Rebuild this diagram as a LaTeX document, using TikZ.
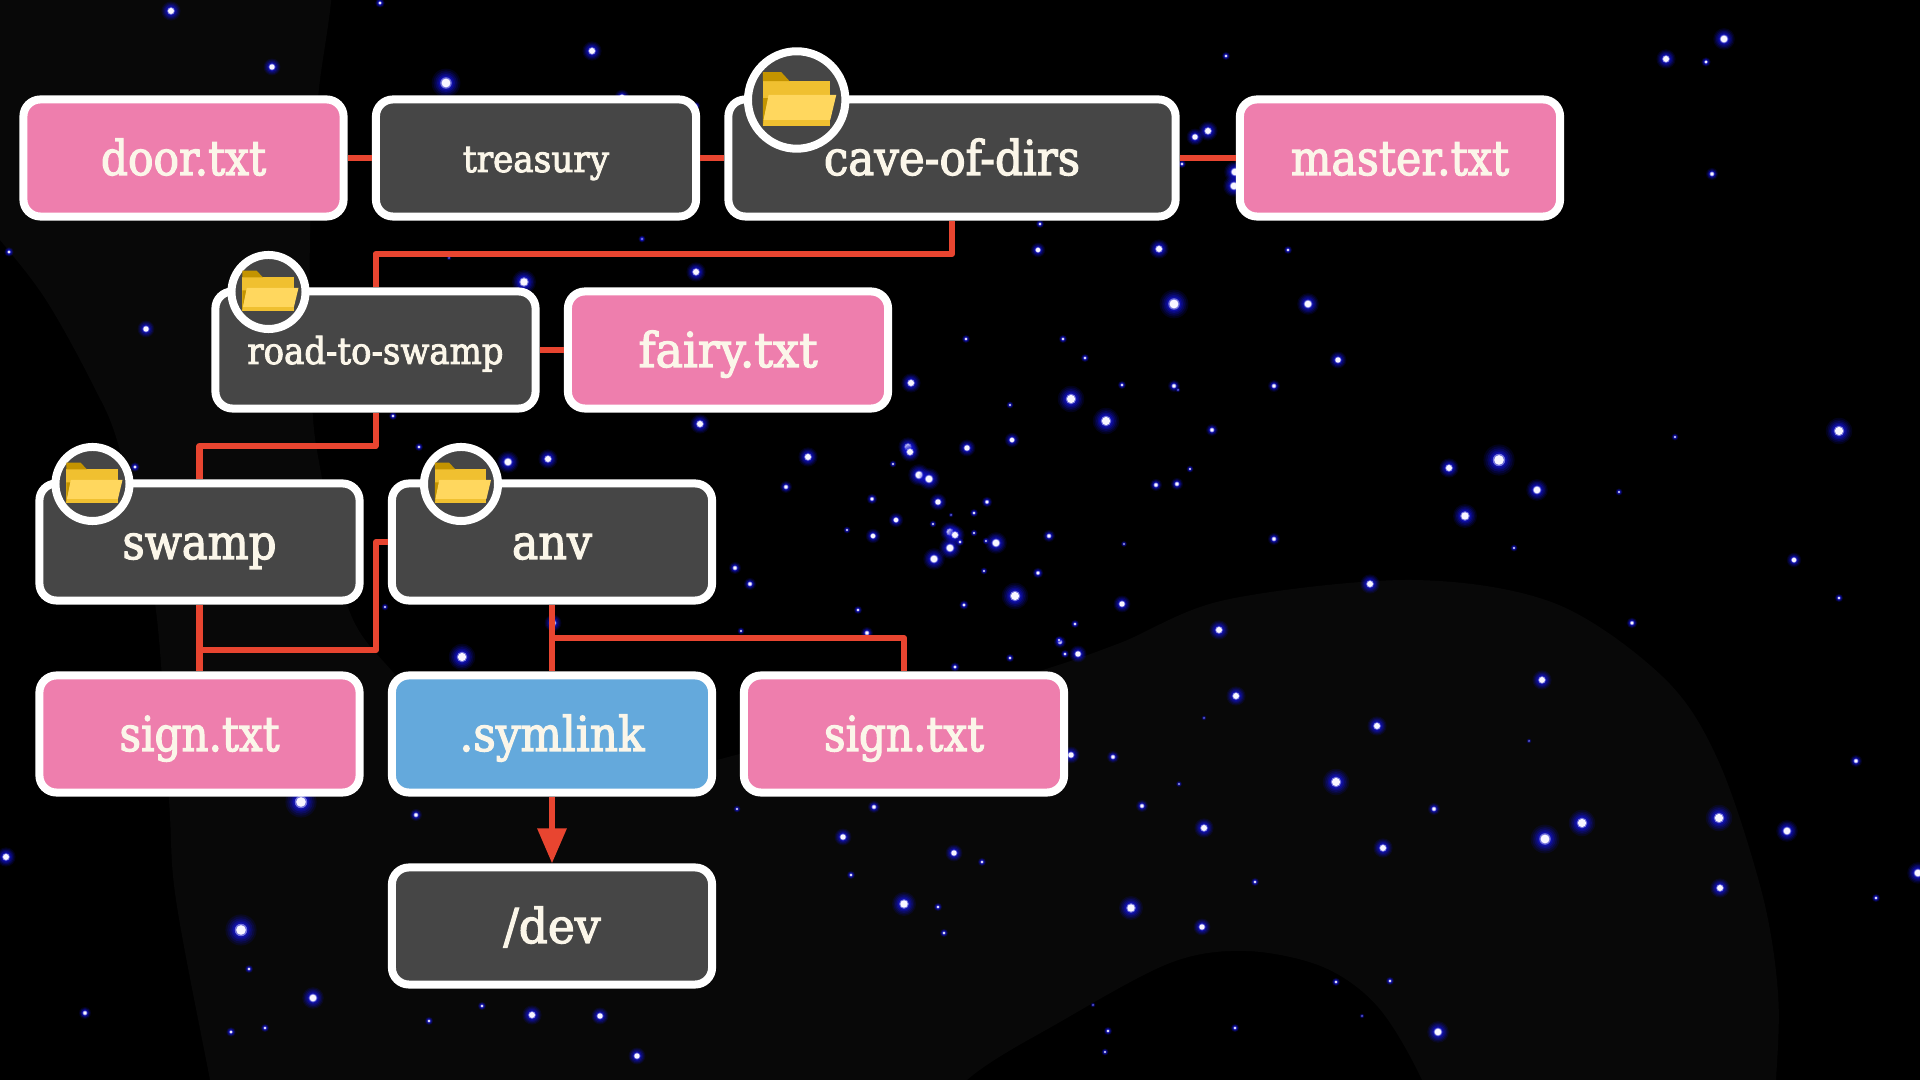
\documentclass[tikz,border=0pt]{standalone}
\usepackage{graphicx}
\usepackage{fontspec}
\setmainfont{DejaVu Serif}[RawFeature={embolden=2.6}]
\usetikzlibrary{arrows.meta}
\definecolor{pinkfill}{HTML}{EE7EAD}
\definecolor{bluefill}{HTML}{64A9DC}
\definecolor{greyfill}{HTML}{464646}
\definecolor{linkred}{HTML}{E84530}
\definecolor{cream}{HTML}{FBF6E9}
\definecolor{blobgrey}{HTML}{080808}
\definecolor{glowblue}{HTML}{1414D8}
\definecolor{halo}{HTML}{9C9CF4}
\definecolor{corewhite}{HTML}{F8F6FF}
\definecolor{foldark}{HTML}{C49400}
\definecolor{folmid}{HTML}{F0C030}
\definecolor{follight}{HTML}{FFD75E}
\newsavebox\fitbox
\newcommand\lab[2]{\sbox\fitbox{\fontsize{13.66}{16}\selectfont #2}\pgfmathsetmacro\fitr{#1*0.28453/\the\wd\fitbox}\rule[-1.71pt]{0pt}{13.09pt}\smash{\scalebox{\fitr}[1]{\usebox\fitbox}}}
\newcommand\slab[2]{\sbox\fitbox{\fontsize{10.5}{13}\selectfont #2}\pgfmathsetmacro\fitr{#1*0.28453/\the\wd\fitbox}\rule[-1.71pt]{0pt}{11.38pt}\smash{\scalebox{\fitr}[1]{\usebox\fitbox}}}
\newcommand\folderat[3]{\begin{scope}[shift={(#1,#2)},scale=#3]
\fill[folmid] (-36.7,-17.8) rectangle (30.7,26.8);
\fill[foldark] (-36.7,-26.8) -- (-18.3,-26.8) -- (-10,-17.8) -- (-36.7,-17.8) -- cycle;
\fill[foldark] (-36.7,-0.8) -- (-31,-0.8) -- (-36,20.8) -- (-36.7,26.8) -- cycle;
\fill[follight] (-31,-4.2) -- (36.7,-4.2) -- (30.7,20.8) -- (-36,20.8) -- cycle;
\end{scope}}
\tikzset{
  x=0.01cm,y=-0.01cm,
  fbox/.style={rectangle,draw=white,line width=0.08cm,rounded corners=0.17cm,minimum height=1.17cm,minimum width=3.2cm,inner sep=0pt,text=cream},
  filebox/.style={fbox,fill=pinkfill},
  dirbox/.style={fbox,fill=greyfill},
  linkbox/.style={fbox,fill=bluefill},
  badge/.style={circle,draw=white,line width=0.08cm,fill=greyfill,inner sep=0pt,minimum size=0.74cm},
  bigbadge/.style={badge,minimum size=0.974cm},
  wire/.style={draw=linkred,line width=0.06cm,line join=round},
}
\begin{document}
\begin{tikzpicture}
\useasboundingbox (0,0) rectangle (1920,1080);
\fill[black] (0,0) rectangle (1920,1080);
\begin{scope}
\clip (0,0) rectangle (1920,1080);
\fill[blobgrey] plot[smooth cycle,tension=0.55] coordinates {(-60,-60) (200,-80) (326,-60) (318,100) (310,233) (312,400) (321,473) (349,610) (397,677) (480,770) (600,790) (717,760) (880,716) (1033,673) (1120,643) (1225,600) (1411,580) (1554,603) (1663,677) (1718,760) (1762,893) (1778,993) (1776,1080) (1768,1170) (1450,1160) (1422,1080) (1378,1007) (1323,967) (1246,951) (1170,963) (1060,1022) (967,1080) (900,1160) (225,1160) (210,1080) (176,900) (169,800) (155,603) (119,447) (92,383) (46,300) (0,240) (-60,170)};
\foreach \sx/\sy/\sk in {
1724/39/9,1666/59/8,1706/62/4,1226/56/3.5,1712/174/5,1208/131/8,1195/137/7,1182/164/3.5,1235/172/9,1234/186/9,1159/249/8,1288/250/3.5,1174/304/12,1308/304/9,1063/339/3.5,1085/358/3.5,1338/360/7,1122/385/3.5,1174/386/5,1178/390/2,1274/386/5,1071/399/11,1106/421/11,1212/430/5,1190/469/3,1156/485/5,1177/484/5,1675/437/3,1839/431/11,1499/460/13,1449/468/8,1537/490/9,1619/492/3,1465/516/10,1124/544/2.5,1274/539/5,1514/548/3,1794/560/6,
1839/598/3.5,1370/584/8,1122/604/7,1075/624/3.5,1060/642/5,1078/654/7,1219/630/8,1632/623/4.5,1542/680/8,1236/696/8,1204/718/2,1377/726/8,1529/741/2,1856/761/5,1071/755/7,1113/757/5,1336/782/11,1179/784/2.5,1142/806/5,1434/809/5,1582/823/11,1719/818/11,1787/831/9,1204/828/8,1545/839/12,1383/848/8,1255/882/3.5,1720/888/8,1918/873/9,1876/898/3.5,1131/908/10,1202/927/7,1336/982/3.5,1390/981/3.5,1093/1005/2,1362/1016/2,1108/1031/3.5,1235/1028/3.5,1438/1032/9,1105/1052/3,
301/802/13,416/815/5,737/809/3,874/807/5,843/837/7,954/853/7,982/862/3.5,851/875/3.5,904/904/10,938/907/3.5,944/933/3.5,6/857/8,241/930/13,249/969/3.5,313/998/9,85/1013/5,231/1032/4,265/1028/3.5,482/1006/3.5,429/1021/3.5,532/1015/8,600/1016/7,637/1056/7,
911/383/8,1010/405/3,1012/440/6,967/448/7,908/447/8,910/452/8,893/464/3,919/475/9,929/479/9,872/499/4.5,938/502/7,987/502/4.5,974/513/3.5,951/515/2,896/520/6,933/524/3,847/530/3,873/536/6,950/532/8,955/535/8,974/533/3,960/542/3.5,986/541/3,996/543/9,1049/536/5,950/548/9,934/559/9,984/571/3,1038/573/4.5,1015/596/11,
171/11/8,380/3/4,272/67/7,592/51/8,446/83/12,9/252/4,146/329/7,642/239/3,524/282/10,696/272/8,449/258/2,393/416/3.5,419/447/3.5,508/462/9,548/459/8,700/424/8,135/467/4,696/106/3.5,
808/457/8,786/487/5,966/339/3.5,735/568/5,750/584/5,858/610/3.5,867/633/5,462/657/11,964/605/4,741/631/3,385/607/3,553/623/7,1059/640/3,1065/654/3.5,955/667/4,1010/658/3.5,622/97/6,1040/224/3.5,1038/250/6,642/239/2}{
  \pgfmathsetmacro\corea{min(1,\sk/4)}
  \fill[glowblue,fill opacity=0.12] (\sx,\sy) circle[radius=1.2*\sk];
  \fill[glowblue,fill opacity=0.16] (\sx,\sy) circle[radius=1.05*\sk];
  \fill[glowblue,fill opacity=0.22] (\sx,\sy) circle[radius=0.9*\sk];
  \fill[glowblue,fill opacity=0.3] (\sx,\sy) circle[radius=0.75*\sk];
  \fill[glowblue,fill opacity=0.4] (\sx,\sy) circle[radius=0.62*\sk];
  \fill[halo,fill opacity=0.7*\corea] (\sx,\sy) circle[radius=0.48*\sk];
  \fill[corewhite,fill opacity=\corea] (\sx,\sy) circle[radius=0.37*\sk];
}
\end{scope}
% boxes
\node[filebox] (door) at (183.5,158) {\lab{165}{door.txt}};
\node[dirbox] (treasury) at (536,158) {\slab{146}{treasury}};
\node[dirbox,minimum width=4.47cm] (cave) at (952,158) {\lab{256}{cave-of-dirs}};
\node[filebox] (master) at (1400,158) {\lab{218}{master.txt}};
\node[dirbox] (road) at (375.5,350) {\slab{256}{road-to-swamp}};
\node[filebox] (fairy) at (728,350) {\lab{179}{fairy.txt}};
\node[dirbox] (swamp) at (199.5,542) {\lab{154}{swamp}};
\node[dirbox] (anv) at (552,542) {\lab{80}{anv}};
\node[filebox] (signa) at (199.5,734) {\lab{160}{sign.txt}};
\node[linkbox] (symlink) at (552,734) {\lab{185}{.symlink}};
\node[filebox] (signb) at (904,734) {\lab{160}{sign.txt}};
\node[dirbox] (dev) at (552,926) {\lab{97}{/dev}};
% connector helpers
\coordinate (rowa) at (0,254);
\coordinate (rowb) at (0,446);
\coordinate (rowc) at (376,650);
\coordinate (rowd) at (0,638);
% connectors
\draw[wire] (door.east) -- (treasury.west);
\draw[wire] (treasury.east) -- (cave.west);
\draw[wire] (cave.east) -- (master.west);
\draw[wire] (cave.south) -- (cave.south |- rowa) -- (road.north |- rowa) -- (road.north);
\draw[wire] (road.east) -- (fairy.west);
\draw[wire] (road.south) -- (road.south |- rowb) -- (swamp.north |- rowb) -- (swamp.north);
\draw[wire] (swamp.south) -- (signa.north);
\draw[wire] (swamp.south |- rowc) -- (rowc) -- (rowc |- anv.west) -- (anv.west);
\draw[wire] (anv.south) -- (symlink.north);
\draw[wire] (anv.south |- rowd) -- (signb.north |- rowd) -- (signb.north);
\draw[wire,-{Triangle[length=0.35cm,width=0.28cm]},linkred] (symlink.south) -- (dev.north);
% badges
\node[bigbadge] (bcave) at (796.7,100) {};
\folderat{799.6}{99}{1}
\node[badge] (broad) at (268.5,292) {};
\folderat{270.5}{291}{0.764}
\node[badge] (bswamp) at (92.5,484) {};
\folderat{94.5}{483}{0.764}
\node[badge] (banv) at (461,484) {};
\folderat{463}{483}{0.764}
\end{tikzpicture}
\end{document}
